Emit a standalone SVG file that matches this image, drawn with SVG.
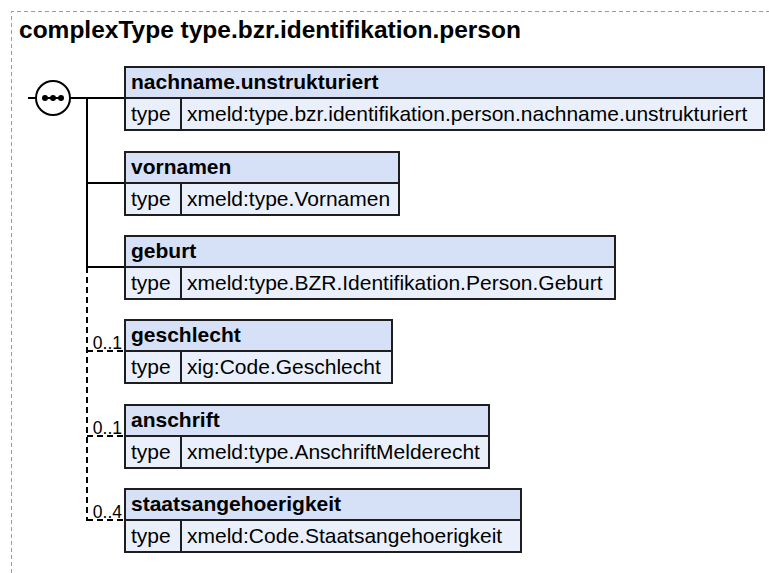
<svg xmlns="http://www.w3.org/2000/svg" width="769" height="573" viewBox="0 0 769 573">
<style>
.frame{fill:none;stroke:#9a9a9a;stroke-width:1;stroke-dasharray:4,3}
.title{font-family:"Liberation Sans",Arial,sans-serif;font-weight:bold;font-size:24.5px;fill:#000}
.hdr{fill:#d6e1f7;stroke:#1e1e1e;stroke-width:2}
.row{fill:#eaf0fb;stroke:#1e1e1e;stroke-width:2}
.name{font-family:"Liberation Sans",Arial,sans-serif;font-weight:bold;font-size:21px;fill:#000}
.txt{font-family:"Liberation Sans",Arial,sans-serif;font-size:21px;fill:#000}
.card{font-family:"Liberation Sans",Arial,sans-serif;font-size:17.5px;fill:#000;text-anchor:end}
.solid{stroke:#000;stroke-width:2;fill:none}
.dash{stroke:#000;stroke-width:2;fill:none;stroke-dasharray:6,4}
</style>
<rect width="769" height="573" fill="#fff"/>
<path class="frame" d="M11.5,573 V11.5 H769"/>
<text class="title" x="19" y="38">complexType type.bzr.identifikation.person</text>

<g id="connectors">
  <line class="solid" x1="28" y1="98" x2="36" y2="98"/>
  <line class="solid" x1="70" y1="98" x2="125" y2="98"/>
  <line class="solid" x1="87" y1="98" x2="87" y2="267"/>
  <line class="solid" x1="87" y1="183" x2="125" y2="183"/>
  <line class="solid" x1="87" y1="267" x2="125" y2="267"/>
  <line class="dash" x1="87" y1="267" x2="87" y2="521"/>
  <line class="dash" x1="87" y1="351" x2="125" y2="351"/>
  <line class="dash" x1="87" y1="436" x2="125" y2="436"/>
  <line class="dash" x1="87" y1="520" x2="125" y2="520"/>
  <text class="card" x="122" y="349">0..1</text>
  <text class="card" x="122" y="434">0..1</text>
  <text class="card" x="122" y="518">0..4</text>
</g>

<g id="sequence">
  <circle cx="53" cy="98" r="17" fill="#fff" stroke="#000" stroke-width="2"/>
  <line x1="45" y1="98" x2="61" y2="98" stroke="#000" stroke-width="2"/>
  <circle cx="45" cy="98" r="3" fill="#000"/>
  <circle cx="53" cy="98" r="3" fill="#000"/>
  <circle cx="61" cy="98" r="3" fill="#000"/>
</g>

<g id="nachname">
  <rect class="hdr" x="125" y="67" width="639" height="31"/>
  <rect class="row" x="125" y="98" width="56" height="32"/>
  <rect class="row" x="181" y="98" width="583" height="32"/>
  <text class="name" x="131" y="89">nachname.unstrukturiert</text>
  <text class="txt" x="131" y="121">type</text>
  <text class="txt" x="187" y="121">xmeld:type.bzr.identifikation.person.nachname.unstrukturiert</text>
</g>

<g id="vornamen">
  <rect class="hdr" x="125" y="152" width="274" height="31"/>
  <rect class="row" x="125" y="183" width="56" height="32"/>
  <rect class="row" x="181" y="183" width="218" height="32"/>
  <text class="name" x="131" y="174">vornamen</text>
  <text class="txt" x="131" y="206">type</text>
  <text class="txt" x="187" y="206">xmeld:type.Vornamen</text>
</g>

<g id="geburt">
  <rect class="hdr" x="125" y="236" width="490" height="31"/>
  <rect class="row" x="125" y="267" width="56" height="32"/>
  <rect class="row" x="181" y="267" width="434" height="32"/>
  <text class="name" x="131" y="258">geburt</text>
  <text class="txt" x="131" y="290">type</text>
  <text class="txt" x="187" y="290">xmeld:type.BZR.Identifikation.Person.Geburt</text>
</g>

<g id="geschlecht">
  <rect class="hdr" x="125" y="320" width="267" height="31"/>
  <rect class="row" x="125" y="351" width="56" height="32"/>
  <rect class="row" x="181" y="351" width="211" height="32"/>
  <text class="name" x="131" y="342">geschlecht</text>
  <text class="txt" x="131" y="374">type</text>
  <text class="txt" x="187" y="374">xig:Code.Geschlecht</text>
</g>

<g id="anschrift">
  <rect class="hdr" x="125" y="405" width="364" height="31"/>
  <rect class="row" x="125" y="436" width="56" height="32"/>
  <rect class="row" x="181" y="436" width="308" height="32"/>
  <text class="name" x="131" y="427">anschrift</text>
  <text class="txt" x="131" y="459">type</text>
  <text class="txt" x="187" y="459">xmeld:type.AnschriftMelderecht</text>
</g>

<g id="staatsangehoerigkeit">
  <rect class="hdr" x="125" y="489" width="396" height="31"/>
  <rect class="row" x="125" y="520" width="56" height="32"/>
  <rect class="row" x="181" y="520" width="340" height="32"/>
  <text class="name" x="131" y="511">staatsangehoerigkeit</text>
  <text class="txt" x="131" y="543">type</text>
  <text class="txt" x="187" y="543">xmeld:Code.Staatsangehoerigkeit</text>
</g>
</svg>
